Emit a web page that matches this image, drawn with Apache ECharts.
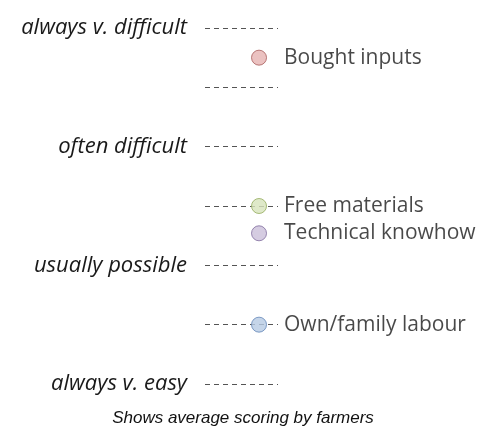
<!DOCTYPE html>
<html>
<head>
<meta charset="utf-8">
<script src="https://cdn.jsdelivr.net/npm/echarts@6/dist/echarts.min.js"></script>
<style>
  html, body { margin: 0; padding: 0; background: #fff; }
  #chart { width: 486px; height: 432px; }
</style>
</head>
<body>
<div id="chart"></div>
<script>
// scale: 1 = always v. easy ... 4 = always v. difficult
const levelTicks = { 1: 'always v. easy', 2: 'usually possible', 3: 'often difficult', 4: 'always v. difficult' };
const factors = ['Bought inputs', 'Free materials', 'Technical knowhow', 'Own/family labour'];
const scores = [3.75, 2.5, 2.27, 1.5];
const fills = ['#e6b3b2', '#d7e4bb', '#cbbfda', '#b7cbe4'];
const borders = ['#a85d5b', '#93ab5c', '#7f6b9e', '#6386b8'];

const chart = echarts.init(document.getElementById('chart'));

chart.setOption({
  animation: false,
  title: {
    text: 'Shows average scoring by farmers',
    left: 'center',
    top: 405,
    textStyle: {
      fontFamily: 'Liberation Sans',
      fontStyle: 'italic',
      fontWeight: 'normal',
      fontSize: 17,
      color: '#111'
    }
  },
  grid: { left: 205, width: 73, top: 28, bottom: 48 },
  xAxis: { type: 'value', min: 0, max: 1, show: false },
  yAxis: {
    type: 'value',
    min: 1,
    max: 4,
    interval: 0.5,
    axisLine: { show: false },
    axisTick: { show: false },
    splitLine: { lineStyle: { color: '#555', type: [5, 4], width: 1 } },
    axisLabel: {
      margin: 18,
      fontFamily: 'Open Sans',
      fontStyle: 'italic',
      fontSize: 22,
      color: '#1a1a1a',
      formatter: (v) => levelTicks[v] || ''
    }
  },
  series: [{
    type: 'scatter',
    symbolSize: 15,
    data: factors.map((name, i) => ({
      name,
      value: [0.74, scores[i]],
      itemStyle: { color: fills[i], borderColor: borders[i], borderWidth: 1 }
    })),
    label: {
      show: true,
      position: 'right',
      distance: 17,
      formatter: '{b}',
      fontFamily: 'Open Sans',
      fontSize: 21,
      color: '#1a1a1a'
    }
  }]
});
</script>
</body>
</html>
